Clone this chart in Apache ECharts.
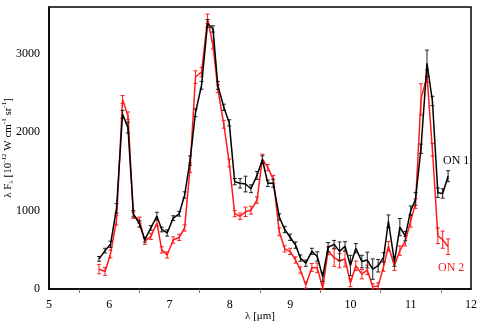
<!DOCTYPE html>
<html>
<head>
<meta charset="utf-8">
<script src="https://cdn.jsdelivr.net/npm/echarts@6/dist/echarts.min.js"></script>
<style>
  html, body { margin: 0; padding: 0; background: #fff; }
  #chart { width: 480px; height: 326px; }
</style>
</head>
<body>
<div id="chart"></div>
<script>
  // wavelength grid (um)
  var lambda = [5.83, 5.93, 6.02, 6.12, 6.22, 6.31, 6.40, 6.50, 6.59, 6.69,
    6.79, 6.87, 6.96, 7.06, 7.16, 7.25, 7.34, 7.43, 7.53, 7.63,
    7.72, 7.80, 7.90, 7.99, 8.08, 8.17, 8.26, 8.35, 8.45, 8.54,
    8.63, 8.72, 8.82, 8.91, 9.00, 9.09, 9.17, 9.26, 9.36, 9.45,
    9.54, 9.63, 9.73, 9.82, 9.91, 10.00, 10.09, 10.19, 10.28, 10.37,
    10.46, 10.55, 10.63, 10.73, 10.82, 10.91, 11.00, 11.08, 11.17, 11.27,
    11.36, 11.45, 11.53, 11.62]
  // ON 1 (black)
  var on1 = [385, 490, 570, 1030, 2230, 2060, 960, 830, 630, 780,
    930, 760, 715, 905, 960, 1200, 1640, 2250, 2600, 3390,
    3320, 2600, 2320, 2120, 1370, 1350, 1340, 1280, 1450, 1650,
    1350, 1350, 920, 760, 660, 560, 395, 330, 480, 415,
    155, 533, 570, 480, 545, 300, 520, 350, 370, 254,
    297, 404, 865, 350, 790, 675, 1000, 1150, 1790, 2880,
    2400, 1230, 1220, 1440]
  var on1Err = [30, 30, 40, 60, 50, 70, 40, 40, 30, 30,
    50, 30, 40, 30, 30, 40, 60, 50, 50, 50,
    40, 50, 40, 40, 40, 60, 100, 50, 50, 50,
    40, 50, 40, 40, 40, 40, 40, 40, 40, 60,
    60, 60, 50, 120, 60, 130, 60, 80, 100, 130,
    80, 60, 80, 60, 110, 60, 60, 80, 60, 170,
    60, 60, 60, 70]
  // ON 2 (red)
  var on2 = [254, 224, 447, 877, 2420, 2210, 942, 877, 610, 671,
    843, 499, 435, 625, 658, 780, 1550, 2706, 2770, 3450,
    3114, 2555, 2103, 1609, 963, 929, 985, 1006, 1135, 1660,
    1550, 1400, 730, 512, 480, 370, 243, 50, 275, 270,
    13, 490, 400, 361, 383, 80, 297, 190, 243, 28,
    39, 286, 545, 297, 490, 610, 870, 1090, 2420, 2720,
    1780, 680, 630, 540]
  var on2Err = [60, 50, 50, 60, 50, 50, 40, 40, 40, 40,
    40, 40, 40, 40, 40, 40, 60, 80, 60, 60,
    50, 50, 50, 50, 40, 40, 60, 50, 40, 60,
    40, 50, 50, 40, 40, 40, 40, 40, 50, 60,
    60, 50, 110, 90, 100, 50, 60, 60, 60, 40,
    40, 60, 60, 60, 60, 60, 80, 60, 200, 80,
    80, 100, 110, 100]

  var serif = 'Liberation Serif'

  function pairs(ys) {
    return lambda.map(function (x, i) { return [x, ys[i]] })
  }
  function errData(ys, es) {
    return lambda.map(function (x, i) { return [x, Math.max(0, ys[i] - es[i]), ys[i] + es[i]] })
  }
  function errRender(color) {
    return function (params, api) {
      var lo = api.coord([api.value(0), api.value(1)])
      var hi = api.coord([api.value(0), api.value(2)])
      var w = 2
      var st = { stroke: color, lineWidth: 1 }
      return {
        type: 'group',
        children: [
          { type: 'line', shape: { x1: lo[0], y1: lo[1], x2: hi[0], y2: hi[1] }, style: st },
          { type: 'line', shape: { x1: lo[0] - w, y1: lo[1], x2: lo[0] + w, y2: lo[1] }, style: st },
          { type: 'line', shape: { x1: hi[0] - w, y1: hi[1], x2: hi[0] + w, y2: hi[1] }, style: st }
        ]
      }
    }
  }

  var myChart = echarts.init(document.getElementById('chart'))
  myChart.setOption({
    animation: false,
    grid: {
      left: 49, top: 7, right: 9, bottom: 37,
      outerBoundsMode: 'none', containLabel: false,
      show: true, borderColor: '#000', borderWidth: 1.5
    },
    xAxis: {
      type: 'value', min: 5, max: 12, interval: 1,
      name: 'λ [μm]', nameLocation: 'middle', nameGap: 22, nameMoveOverlap: false,
      nameTextStyle: { fontFamily: serif, fontSize: 11, color: '#000' },
      axisLine: { lineStyle: { color: '#000', width: 1.5 } },
      axisTick: { show: false },
      minorTick: { show: true, splitNumber: 2, length: 4, lineStyle: { color: '#777' } },
      splitLine: { show: false },
      axisLabel: { fontFamily: serif, fontSize: 12, color: '#000', margin: 10 }
    },
    yAxis: {
      type: 'value', min: 0, max: 3600, interval: 1000,
      name: '{n|λ F}{sub|λ}{n| [10}{sup|-12}{n| W cm}{sup|-1}{n| sr}{sup|-1}{n|]}',
      nameLocation: 'middle', nameGap: 34, nameRotate: 90, nameMoveOverlap: false,
      nameTextStyle: {
        rich: {
          n: { fontFamily: serif, fontSize: 11, color: '#000', lineHeight: 14 },
          sup: { fontFamily: serif, fontSize: 7, color: '#000', verticalAlign: 'top', lineHeight: 14, padding: [0, 0, 4, 0] },
          sub: { fontFamily: serif, fontSize: 7, color: '#000', verticalAlign: 'bottom', lineHeight: 14, padding: [4, 0, 0, 0] }
        }
      },
      axisLine: { lineStyle: { color: '#000', width: 1.5 } },
      axisTick: { show: false },
      splitLine: { show: false },
      axisLabel: {
        fontFamily: serif, fontSize: 12, color: '#000', margin: 9, showMaxLabel: false,
        formatter: function (v) { return String(v) }
      }
    },
    series: [
      {
        name: 'ON 2', type: 'line', data: pairs(on2), showSymbol: false,
        lineStyle: { color: '#ff1a1a', width: 1.5 }, z: 2
      },
      {
        type: 'custom', data: errData(on2, on2Err), renderItem: errRender('#ff1a1a'),
        encode: { x: 0, y: [1, 2] }, z: 2
      },
      {
        name: 'ON 1', type: 'line', data: pairs(on1), showSymbol: false,
        lineStyle: { color: '#000', width: 1.5 }, z: 3
      },
      {
        type: 'custom', data: errData(on1, on1Err), renderItem: errRender('#222'),
        encode: { x: 0, y: [1, 2] }, z: 3
      }
    ],
    graphic: [
      { type: 'text', left: 443, top: 155, style: { text: 'ON 1', font: '12px "Liberation Serif"', fill: '#000' } },
      { type: 'text', left: 438, top: 262, style: { text: 'ON 2', font: '12px "Liberation Serif"', fill: '#ff1a1a' } }
    ]
  })
</script>
</body>
</html>
